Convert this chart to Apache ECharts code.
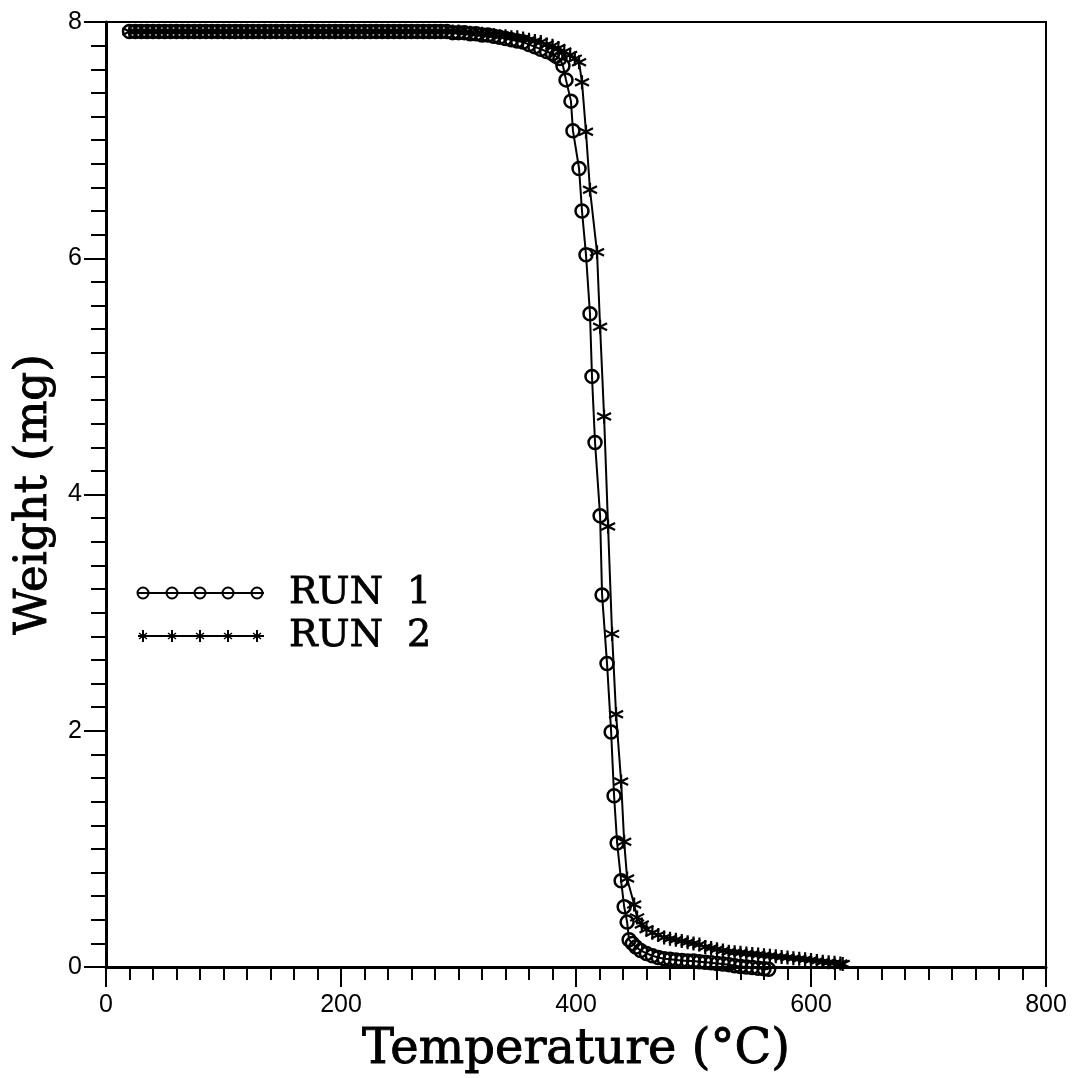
<!DOCTYPE html>
<html>
<head>
<meta charset="utf-8">
<script src="https://cdn.jsdelivr.net/npm/echarts@6/dist/echarts.min.js"></script>
<style>html,body{margin:0;padding:0;background:#fff}#c{width:1078px;height:1078px}</style>
</head>
<body>
<div id="c"></div>
<script>
// Temperature (°C) and weight (mg)
const run1Temp = [
  20,25,30,35,40,45,50,55,60,65,
  70,75,80,85,90,95,100,105,110,115,
  120,125,130,135,140,145,150,155,160,165,
  170,175,180,185,190,195,200,205,210,215,
  220,225,230,235,240,245,250,255,260,265,
  270,275,280,285,290,295,
  300,305,310,315,320,325,330,335,340,345,350,355,360,365,370,375,380,383,
  386.3,388.9,391.5,395.7,397.4,402.6,405.1,408.5,411.9,413.6,416.2,420.5,422.2,426.4,429.9,432.4,435.0,438.4,441.0,443.5,445.2,
  448,451,455,460,465,470,475,480,485,490,495,500,505,510,515,520,525,530,535,540,545,550,555,560,564];
const run1Weight = [
  7.92,7.92,7.92,7.92,7.92,7.92,7.92,7.92,7.92,7.92,
  7.92,7.92,7.92,7.92,7.92,7.92,7.92,7.92,7.92,7.92,
  7.92,7.92,7.92,7.92,7.92,7.92,7.92,7.92,7.92,7.92,
  7.92,7.92,7.92,7.92,7.92,7.92,7.92,7.92,7.92,7.92,
  7.92,7.92,7.92,7.92,7.92,7.92,7.92,7.92,7.92,7.92,
  7.92,7.92,7.92,7.92,7.92,7.91,
  7.91,7.91,7.90,7.90,7.89,7.89,7.88,7.87,7.86,7.85,7.84,7.83,7.81,7.79,7.77,7.75,7.73,7.71,
  7.69,7.63,7.51,7.33,7.08,6.76,6.40,6.03,5.53,5.00,4.44,3.82,3.15,2.57,1.99,1.45,1.05,0.73,0.51,0.38,0.23,
  0.20,0.17,0.14,0.115,0.095,0.08,0.07,0.065,0.06,0.055,0.05,0.05,0.045,0.04,0.035,0.03,0.025,0.02,0.01,0.005,0,-0.005,-0.01,-0.015,-0.02];
const run2Temp = [
  20,25,30,35,40,45,50,55,60,65,
  70,75,80,85,90,95,100,105,110,115,
  120,125,130,135,140,145,150,155,160,165,
  170,175,180,185,190,195,200,205,210,215,
  220,225,230,235,240,245,250,255,260,265,
  270,275,280,285,290,295,
  300,305,310,315,320,325,330,335,340,345,350,355,360,365,370,375,380,385,390,395,399,
  402.6,405.1,408.5,411.9,417.9,420.5,423.9,427.3,430.7,434.1,438.4,441.0,443.5,449.5,452,456,
  460,465,470,475,480,485,490,495,500,505,510,515,520,525,530,535,540,545,550,555,560,565,570,575,580,585,590,595,600,605,610,615,620,625,627];
const run2Weight = [
  7.92,7.92,7.92,7.92,7.92,7.92,7.92,7.92,7.92,7.92,
  7.92,7.92,7.92,7.92,7.92,7.92,7.92,7.92,7.92,7.92,
  7.92,7.92,7.92,7.92,7.92,7.92,7.92,7.92,7.92,7.92,
  7.92,7.92,7.92,7.92,7.92,7.92,7.92,7.92,7.92,7.92,
  7.92,7.92,7.92,7.92,7.92,7.92,7.92,7.92,7.92,7.92,
  7.92,7.92,7.92,7.92,7.92,7.92,
  7.92,7.91,7.91,7.90,7.90,7.89,7.89,7.88,7.88,7.87,7.87,7.86,7.85,7.84,7.83,7.81,7.80,7.78,7.75,7.72,7.69,
  7.66,7.49,7.07,6.58,6.05,5.42,4.66,3.73,2.82,2.14,1.57,1.06,0.75,0.53,0.42,0.36,
  0.32,0.29,0.27,0.25,0.24,0.23,0.22,0.21,0.20,0.19,0.17,0.16,0.15,0.14,0.13,0.125,0.12,0.115,0.11,0.105,0.10,0.095,0.09,0.085,0.08,0.075,0.07,0.065,0.06,0.05,0.045,0.04,0.035,0.03,0.025];
const xTicks = [0,200,400,600,800];
const yTicks = [0,2,4,6,8];
const legendNames = ['RUN  1','RUN  2'];

const zip = (a,b) => a.map((v,i)=>[v,b[i]]);
const starPath = 'path://M5,0L5,10M0.67,2.5L9.33,7.5M0.67,7.5L9.33,2.5';
const serif = '"DejaVu Serif", "Liberation Serif", serif';

const chart = echarts.init(document.getElementById('c'), null, {renderer:'canvas'});
const legendItems = [];
const lx = [143,172,200,228,257];
[593,636].forEach((ly,k)=>{
  legendItems.push({type:'line', shape:{x1:138,y1:ly,x2:264,y2:ly}, style:{stroke:'#000', lineWidth:2}});
  lx.forEach(x=>{
    if(k===0) legendItems.push({type:'circle', shape:{cx:x, cy:ly, r:5.5}, style:{fill:'none', stroke:'#000', lineWidth:2}});
    else {
      legendItems.push({type:'line', shape:{x1:x,y1:ly-6,x2:x,y2:ly+6}, style:{stroke:'#000', lineWidth:2}});
      legendItems.push({type:'line', shape:{x1:x-4,y1:ly-3,x2:x+4,y2:ly+3}, style:{stroke:'#000', lineWidth:1.5}});
      legendItems.push({type:'line', shape:{x1:x-4,y1:ly+3,x2:x+4,y2:ly-3}, style:{stroke:'#000', lineWidth:1.5}});
    }
  });
  legendItems.push({type:'text', x:289, y:ly, style:{text:legendNames[k], font:'38px '+serif, fill:'#000', stroke:'#000', lineWidth:0.8, verticalAlign:'middle', textAlign:'left'}});
});

chart.setOption({
  animation:false,
  backgroundColor:'#fff',
  grid:{left:106, right:32, top:22, bottom:111, show:true, borderColor:'#000', borderWidth:2, containLabel:false, outerBoundsMode:'none'},
  xAxis:{type:'value', min:0, max:800, interval:200,
    name:'Temperature (°C)', nameLocation:'middle', nameGap:60,
    nameTextStyle:{fontFamily:serif, fontSize:48, color:'#000', textBorderColor:'#000', textBorderWidth:0.9},
    axisLine:{lineStyle:{color:'#000', width:3}},
    axisTick:{show:true, inside:false, length:20, lineStyle:{color:'#000', width:2}},
    minorTick:{show:true, splitNumber:10, length:13, lineStyle:{color:'#000', width:2}},
    splitLine:{show:false},
    axisLabel:{margin:26, fontFamily:'"Liberation Sans", Arial, sans-serif', fontSize:25, color:'#000',
      formatter:v=> xTicks.includes(v)? String(v):''}
  },
  yAxis:{type:'value', min:0, max:8, interval:2,
    name:'Weight (mg)', nameLocation:'middle', nameGap:40, nameRotate:90,
    nameTextStyle:{fontFamily:serif, fontSize:45, color:'#000', textBorderColor:'#000', textBorderWidth:0.9},
    axisLine:{show:true, lineStyle:{color:'#000', width:3}},
    axisTick:{show:true, inside:false, length:22, lineStyle:{color:'#000', width:2}},
    minorTick:{show:true, splitNumber:10, length:15, lineStyle:{color:'#000', width:2}},
    splitLine:{show:false},
    axisLabel:{margin:24, fontFamily:'"Liberation Sans", Arial, sans-serif', fontSize:25, color:'#000',
      formatter:v=> yTicks.includes(v)? String(v):''}
  },
  series:[
    {type:'line', name:legendNames[0], data:zip(run1Temp,run1Weight), showSymbol:true, showAllSymbol:true,
      symbol:'circle', symbolSize:13, sampling:null, clip:false,
      lineStyle:{color:'#000', width:2},
      itemStyle:{color:'rgba(255,255,255,0)', borderColor:'#000', borderWidth:2.5}, z:3},
    {type:'line', name:legendNames[1], data:zip(run2Temp,run2Weight), showSymbol:true, showAllSymbol:true,
      symbol:starPath, symbolSize:14, sampling:null, clip:false,
      lineStyle:{color:'#000', width:2},
      itemStyle:{color:'#000', borderColor:'#000', borderWidth:2.2}, z:4}
  ],
  graphic: legendItems
});
</script>
</body>
</html>
